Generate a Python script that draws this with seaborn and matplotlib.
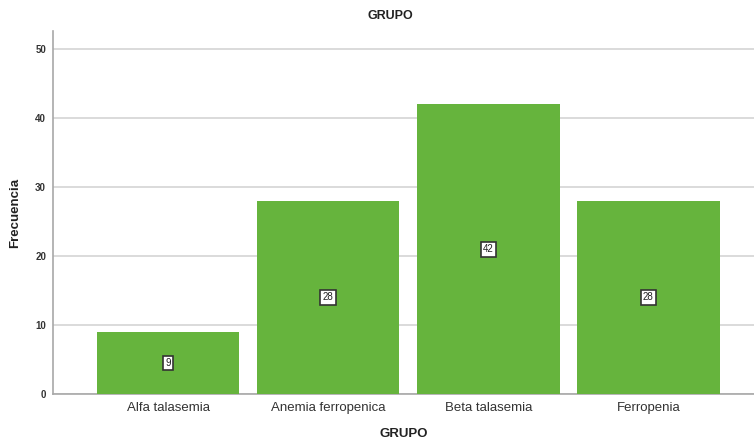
import matplotlib
matplotlib.use("Agg")
import matplotlib.pyplot as plt
import seaborn as sns
import pandas as pd

categories = ["Alfa talasemia", "Anemia ferropenica", "Beta talasemia", "Ferropenia"]
counts = [9, 28, 42, 28]
yticks = [0, 10, 20, 30, 40, 50]

df = pd.DataFrame({"GRUPO": categories, "Frecuencia": counts})

sns.set_theme(style="white")
plt.rcParams['font.family'] = ['Liberation Sans', 'DejaVu Sans']

fig = plt.figure(figsize=(7.54, 4.44), dpi=100)
ax = fig.add_axes([53/754, 1-394/444, 1-53/754, (394-31)/444])

sns.barplot(data=df, x="GRUPO", y="Frecuencia", color="#66b43d", saturation=1,
            width=0.89, ax=ax, zorder=3)
for p in ax.patches:
    p.set_edgecolor("none")

ax.set_xlim(-0.72, 3.66)
ax.set_ylim(0, 52.6)
ax.set_yticks(yticks)
ax.yaxis.grid(True, color="#d4d4d4", linewidth=1.2, zorder=0)
ax.set_axisbelow(True)

for s in ["top", "right"]:
    ax.spines[s].set_visible(False)
ax.spines["left"].set_color("#a8a8a8")
ax.spines["bottom"].set_color("#a8a8a8")
ax.spines["left"].set_linewidth(1.2)
ax.spines["bottom"].set_linewidth(1.2)

ax.tick_params(axis="y", labelsize=7, colors="#333333", length=0, pad=5)
ax.tick_params(axis="x", labelsize=9.5, colors="#333333", length=0, pad=6)
for t in ax.get_yticklabels():
    t.set_fontweight("bold")

ax.set_xlabel("GRUPO", fontsize=9.5, fontweight="bold", color="#222222", labelpad=10)
ax.set_ylabel("Frecuencia", fontsize=9.5, fontweight="bold", color="#222222", labelpad=10)
fig.text(390/754, 1-16/444, "GRUPO", ha="center", va="center", fontsize=9,
         fontweight="bold", color="#222222")

for i, v in enumerate(counts):
    ax.text(i, v/2, str(v), ha="center", va="center", fontsize=7, color="#222222",
            zorder=5,
            bbox=dict(boxstyle="square,pad=0.25", facecolor="white",
                      edgecolor="#333333", linewidth=1.2))

fig.savefig("out.png", dpi=100)
